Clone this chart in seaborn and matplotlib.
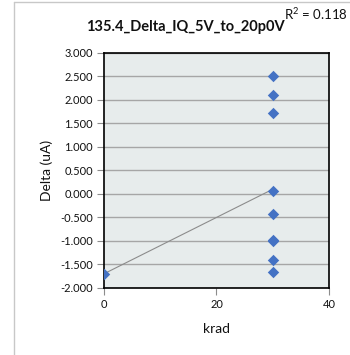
import matplotlib
matplotlib.use("Agg")
import matplotlib.pyplot as plt
import seaborn as sns
import numpy as np
import pandas as pd
from matplotlib.lines import Line2D

# Data
krad = [0, 30, 30, 30, 30, 30, 30, 30, 30, 30]
delta_ua = [-1.70, 2.50, 2.11, 1.72, 0.06, -0.43, -0.99, -1.01, -1.40, -1.67]
title_text = "135.4_Delta_IQ_5V_to_20p0V"
r2_label = "R$^2$ = 0.118"
x_ticks = [0, 20, 40]
y_ticks = [-2.0, -1.5, -1.0, -0.5, 0.0, 0.5, 1.0, 1.5, 2.0, 2.5, 3.0]

df = pd.DataFrame({"krad": krad, "delta": delta_ua})

sns.set_style("white")
plt.rcParams['font.family'] = ['Lato', 'DejaVu Sans']
plt.rcParams['mathtext.fontset'] = 'custom'
plt.rcParams['mathtext.rm'] = 'Lato'

fig = plt.figure(figsize=(3.5, 3.55), dpi=100)
ax = fig.add_axes([0.297, 0.189, 0.643, 0.662])
ax.set_facecolor("#E7ECEC")

# outer chart border
fig.add_artist(Line2D([14/350, 14/350], [0, 1 - 2/355], transform=fig.transFigure,
                      color="#C8C8C8", lw=1.0))
fig.add_artist(Line2D([14/350, 1], [1 - 2/355, 1 - 2/355], transform=fig.transFigure,
                      color="#C8C8C8", lw=1.0))

sns.regplot(data=df, x="krad", y="delta", ax=ax, ci=None, scatter=False,
            line_kws=dict(color="#8C8C8C", lw=0.8, zorder=2))
sns.scatterplot(data=df, x="krad", y="delta", ax=ax, marker="D", s=34,
                color="#4472C4", edgecolor="#4472C4", linewidth=0, zorder=3)

ax.set_xlim(0, 40)
ax.set_ylim(-2.0, 3.0)
ax.set_xticks(x_ticks)
ax.set_xticklabels([str(t) for t in x_ticks])
ax.set_yticks(y_ticks)
ax.set_yticklabels([f"{t:.3f}" for t in y_ticks])
ax.yaxis.grid(True, color="#A6A6A6", lw=1.0)
ax.set_axisbelow(True)
for s in ax.spines.values():
    s.set_color("#000000")
    s.set_linewidth(1.2)
ax.tick_params(axis="both", which="major", direction="out", length=5, width=0.8,
               color="#8C8C8C", labelsize=8, pad=3, left=True, bottom=True,
               labelcolor="#111111")
ax.set_xlabel("krad", fontsize=10, labelpad=9, color="#111111")
ax.set_ylabel("Delta (uA)", fontsize=10, labelpad=5, color="#111111")

fig.text(0.53, 1 - 27/355, title_text, ha="center", va="center",
         fontsize=10.5, fontweight="bold", color="#111111")
fig.text(0.81, 1 - 14/355, r2_label, ha="left", va="center",
         fontsize=9.5, color="#111111")

fig.savefig("out.png", dpi=100)
